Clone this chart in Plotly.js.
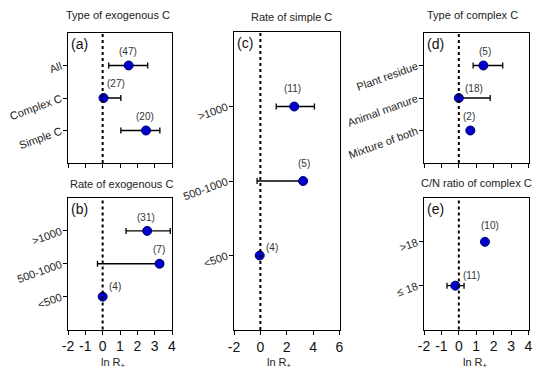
<!DOCTYPE html>
<html>
<head>
<meta charset="utf-8">
<script src="https://cdn.plot.ly/plotly-3.0.1.min.js"></script>
<style>html,body{margin:0;padding:0;background:#fff;}#chart{width:550px;height:384px;}</style>
</head>
<body>
<div id="chart"></div>
<script>
// ---- Data (bottom-to-top category order) ----
// (a) Type of exogenous C
const catA = ['Simple C', 'Complex C', 'All'];
const valA = [2.5, 0.05, 1.5];
const errPlusA = [0.8, 1.0, 1.1];
const errMinusA = [1.45, 0.0, 1.15];
const nA = [20, 27, 47];

// (b) Rate of exogenous C
const catB = ['<500', '500-1000', '>1000'];
const valB = [0.0, 3.28, 2.57];
const errPlusB = [0.0, 0.2, 1.33];
const errMinusB = [0.0, 3.58, 1.22];
const nB = [4, 7, 31];

// (c) Rate of simple C
const catC = ['<500', '500-1000', '>1000'];
const valC = [-0.05, 3.24, 2.57];
const errPlusC = [0.0, 0.2, 1.53];
const errMinusC = [0.0, 3.49, 1.37];
const nC = [4, 5, 11];

// (d) Type of complex C
const catD = ['Mixture of both', 'Animal manure', 'Plant residue'];
const valD = [0.66, 0.0, 1.41];
const errPlusD = [0.0, 1.8, 1.11];
const errMinusD = [0.0, 0.0, 0.59];
const nD = [2, 18, 5];

// (e) C/N ratio of complex C
const catE = ['≤ 18', '>18'];
const valE = [-0.2, 1.5];
const errPlusE = [0.5, 0.15];
const errMinusE = [0.48, 0.15];
const nE = [11, 10];

// x tick values / labels
const xTicks4 = [-2, -1, 0, 1, 2, 3, 4];
const xTickText4 = ['-2', '-1', '0', '1', '2', '3', '4'];
const xTicks6 = [-2, 0, 2, 4, 6];
const xTickText6 = ['-2', '0', '2', '4', '6'];

// ---- Layout / styles ----
const W = 550, H = 384;
const FONT = '"Liberation Sans", Arial, sans-serif';
const px = v => v / W;
const py = v => 1 - v / H;

const panels = [
  {id: '', letter: '(a)', title: 'Type of exogenous C', cats: catA, val: valA, ep: errPlusA, em: errMinusA, n: nA,
   xd: [68, 172], yd: [33, 163], xr: [-2, 4], tv: xTicks4, tt: xTickText4, labels: false,
   shift: [[-1, 14], [12, 15], [-1, 14]], titlePos: [118, 15]},
  {id: '2', letter: '(b)', title: 'Rate of exogenous C', cats: catB, val: valB, ep: errPlusB, em: errMinusB, n: nB,
   xd: [68, 172], yd: [198, 329.5], xr: [-2, 4], tv: xTicks4, tt: xTickText4, labels: true,
   shift: [[12, 10], [-1, 14], [-1, 13]], titlePos: [121, 184], xtitle: 113},
  {id: '3', letter: '(c)', title: 'Rate of simple C', cats: catC, val: valC, ep: errPlusC, em: errMinusC, n: nC,
   xd: [234, 339.5], yd: [32, 330], xr: [-2, 6], tv: xTicks6, tt: xTickText6, labels: true,
   shift: [[12, 8], [1, 18], [-2, 18]], titlePos: [291, 17], xtitle: 279},
  {id: '4', letter: '(d)', title: 'Type of complex C', cats: catD, val: valD, ep: errPlusD, em: errMinusD, n: nD,
   xd: [424, 528.5], yd: [33, 163], xr: [-2, 4], tv: xTicks4, tt: xTickText4, labels: false,
   shift: [[-1, 14], [15, 10], [2, 14]], titlePos: [472, 15]},
  {id: '5', letter: '(e)', title: 'C/N ratio of complex C', cats: catE, val: valE, ep: errPlusE, em: errMinusE, n: nE,
   xd: [424, 528.5], yd: [198, 329.5], xr: [-2, 4], tv: xTicks4, tt: xTickText4, labels: true,
   shift: [[16, 10], [5, 16]], titlePos: [476, 183], xtitle: 475}
];

const traces = [];
const layout = {
  width: W, height: H,
  margin: {l: 0, r: 0, t: 0, b: 0},
  paper_bgcolor: '#fff', plot_bgcolor: '#fff',
  showlegend: false,
  font: {family: FONT, size: 11, color: '#222'},
  annotations: [], shapes: []
};

panels.forEach(p => {
  const xa = 'x' + p.id, ya = 'y' + p.id;
  traces.push({
    type: 'scatter', mode: 'markers',
    x: p.val, y: p.cats, xaxis: xa, yaxis: ya,
    marker: {size: 9, color: '#0000CC', line: {color: '#000066', width: 1}},
    error_x: {type: 'data', symmetric: false, array: p.ep, arrayminus: p.em,
              color: '#000', thickness: 1.3, width: 3},
    cliponaxis: false, hoverinfo: 'skip'
  });
  layout['xaxis' + p.id] = {
    domain: [px(p.xd[0]), px(p.xd[1])], anchor: ya,
    range: p.xr, tickmode: 'array', tickvals: p.tv, ticktext: p.tt,
    showgrid: false, zeroline: false,
    showline: true, mirror: true, linecolor: '#000', linewidth: 1,
    ticks: 'outside', ticklen: 4, tickcolor: '#000',
    showticklabels: p.labels,
    tickfont: {family: FONT, size: 14, color: '#111'}
  };
  layout['yaxis' + p.id] = {
    domain: [py(p.yd[1]), py(p.yd[0])], anchor: xa,
    type: 'category', categoryorder: 'array', categoryarray: p.cats,
    range: [-1, p.cats.length],
    showgrid: false, zeroline: false,
    showline: true, mirror: true, linecolor: '#000', linewidth: 1,
    ticks: 'outside', ticklen: 4, tickcolor: '#000',
    tickangle: -20,
    tickfont: {family: FONT, size: 11, color: '#222'}
  };
  // dotted zero line
  layout.shapes.push({
    type: 'line', xref: xa, yref: ya + ' domain', x0: 0, x1: 0, y0: 0, y1: 1,
    line: {color: '#000', width: 2, dash: 'dot'}
  });
  // panel title
  layout.annotations.push({
    xref: 'paper', yref: 'paper', x: px(p.titlePos[0]), y: py(p.titlePos[1]),
    text: p.title, showarrow: false, xanchor: 'center', yanchor: 'middle',
    font: {family: FONT, size: 11, color: '#222'}
  });
  // panel letter
  layout.annotations.push({
    xref: xa + ' domain', yref: ya + ' domain', x: 0, y: 1, xshift: 1, yshift: -1,
    text: p.letter, showarrow: false, xanchor: 'left', yanchor: 'top',
    font: {family: FONT, size: 14, color: '#111'}
  });
  // counts
  p.n.forEach((n, i) => {
    layout.annotations.push({
      xref: xa, yref: ya, x: p.val[i], y: p.cats[i],
      xshift: p.shift[i][0], yshift: p.shift[i][1],
      text: '(' + n + ')', showarrow: false, xanchor: 'center', yanchor: 'middle',
      font: {family: FONT, size: 10, color: '#333'}
    });
  });
  // x-axis title
  if (p.xtitle) {
    layout.annotations.push({
      xref: 'paper', yref: 'paper', x: px(p.xtitle), y: py(363),
      text: 'ln R<sub>+</sub>', showarrow: false, xanchor: 'center', yanchor: 'middle',
      font: {family: FONT, size: 11, color: '#222'}
    });
  }
});

Plotly.newPlot('chart', traces, layout, {displayModeBar: false, staticPlot: true});
</script>
</body>
</html>
